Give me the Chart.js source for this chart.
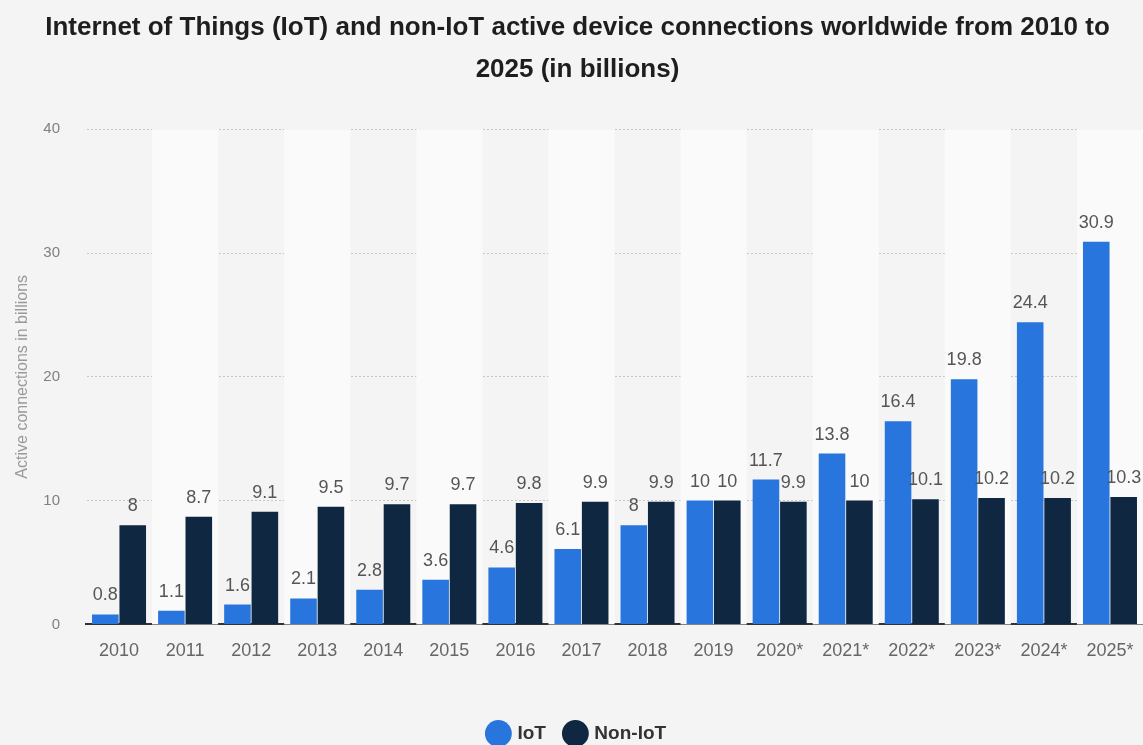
<!DOCTYPE html>
<html>
<head>
<meta charset="utf-8">
<script src="https://cdn.jsdelivr.net/npm/chart.js@4"></script>
<style>
  html, body { margin: 0; padding: 0; background: #f4f4f4; }
  #wrap { width: 1143px; height: 745px; }
</style>
</head>
<body>
<div id="wrap"><canvas id="chart"></canvas></div>
<script>
var years = ['2010', '2011', '2012', '2013', '2014', '2015', '2016', '2017', '2018', '2019',
             '2020*', '2021*', '2022*', '2023*', '2024*', '2025*'];
var iot = [0.8, 1.1, 1.6, 2.1, 2.8, 3.6, 4.6, 6.1, 8, 10, 11.7, 13.8, 16.4, 19.8, 24.4, 30.9];
var nonIot = [8, 8.7, 9.1, 9.5, 9.7, 9.7, 9.8, 9.9, 9.9, 10, 9.9, 10, 10.1, 10.2, 10.2, 10.3];
var yTicks = [0, 10, 20, 30, 40];

var FONT = '"Liberation Sans", Arial, sans-serif';

// alternating light column bands behind the bars
var bands = {
    id: 'bands',
    beforeDatasetsDraw: function (chart) {
        var ctx = chart.ctx, area = chart.chartArea, x = chart.scales.x;
        var w = (area.right - area.left) / years.length;
        ctx.save();
        ctx.fillStyle = '#fafafa';
        for (var i = 1; i < years.length; i += 2) {
            ctx.fillRect(x.getPixelForValue(i) - w / 2, area.top, w, area.bottom - area.top);
        }
        ctx.restore();
    }
};

// value labels above each bar
var labels = {
    id: 'labels',
    afterDatasetsDraw: function (chart) {
        var ctx = chart.ctx;
        ctx.save();
        ctx.font = '18px ' + FONT;
        ctx.fillStyle = '#555';
        ctx.textAlign = 'center';
        ctx.textBaseline = 'alphabetic';
        chart.data.datasets.forEach(function (ds, di) {
            chart.getDatasetMeta(di).data.forEach(function (bar, i) {
                ctx.fillText(String(ds.data[i]), bar.x, bar.y - 14);
            });
        });
        ctx.restore();
    }
};

var ctx = document.getElementById('chart').getContext('2d');
var myChart = new Chart(ctx, {
    type: 'bar',
    data: {
        labels: years,
        datasets: [{
            label: 'IoT',
            data: iot,
            backgroundColor: '#2876dd',
            borderWidth: 0
        }, {
            label: 'Non-IoT',
            data: nonIot,
            backgroundColor: '#0f2740',
            borderWidth: 0
        }]
    },
    options: {
        responsive: true,
        maintainAspectRatio: false,
        animation: false,
        layout: { padding: { left: 8, right: -4, top: 0, bottom: -8 } },
        plugins: {
            title: {
                display: true,
                text: ['Internet of Things (IoT) and non-IoT active device connections worldwide from 2010 to', '2025 (in billions)'],
                color: '#1e1e1e',
                font: { family: FONT, size: 26, weight: 'bold', lineHeight: 1.6 },
                padding: { top: 7, bottom: 39 }
            },
            legend: {
                position: 'bottom',
                labels: {
                    usePointStyle: true,
                    pointStyle: 'circle',
                    boxWidth: 20,
                    boxHeight: 20,
                    padding: 20,
                    color: '#333',
                    font: { family: FONT, size: 19, weight: 'bold' }
                }
            },
            tooltip: { enabled: false }
        },
        datasets: {
            bar: { categoryPercentage: 0.83, barPercentage: 0.97 }
        },
        scales: {
            x: {
                grid: { display: false },
                border: { display: true, color: '#333', width: 2 },
                afterFit: function (axis) { axis.height += 34; },
                ticks: {
                    color: '#666',
                    padding: 8,
                    font: { family: FONT, size: 18 }
                }
            },
            y: {
                min: 0,
                max: 40,
                afterBuildTicks: function (axis) {
                    axis.ticks = yTicks.map(function (v) { return { value: v }; });
                },
                afterFit: function (axis) { axis.width = 78; },
                grid: { color: '#c8c8c8', lineWidth: 1, drawTicks: false },
                border: { display: true, color: 'rgba(0,0,0,0)', dash: [2, 2] },
                ticks: {
                    color: '#808080',
                    padding: 26,
                    font: { family: FONT, size: 15 }
                },
                title: {
                    display: true,
                    text: 'Active connections in billions',
                    color: '#999',
                    padding: { top: 5, bottom: 0 },
                    font: { family: FONT, size: 16 }
                }
            }
        }
    },
    plugins: [bands, labels]
});
</script>
</body>
</html>
